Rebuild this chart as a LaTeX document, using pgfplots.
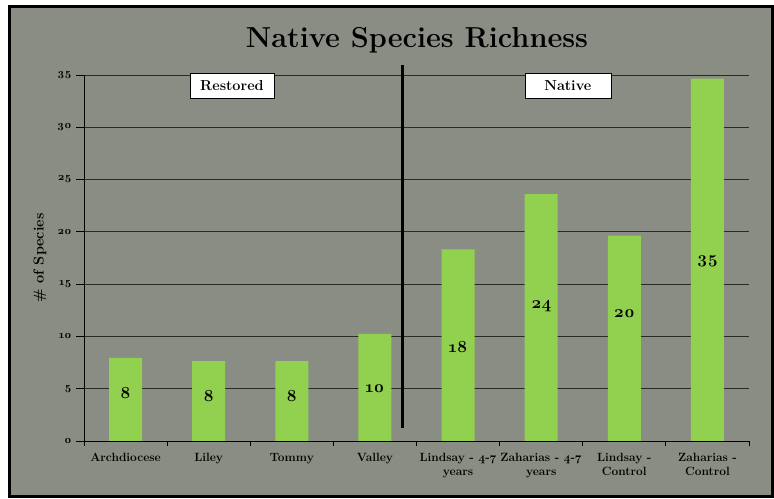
\documentclass[border=0pt]{standalone}
\usepackage{fontspec}
\setmainfont{Latin Modern Roman}[Numbers=OldStyle]
\usepackage{pgfplots}
\pgfplotsset{compat=1.18}
\definecolor{bg}{RGB}{138,141,131}
\definecolor{bargreen}{RGB}{146,208,80}
\definecolor{gridc}{RGB}{40,42,38}
\pgfplotstableread{
x y
0 7.94
1 7.65
2 7.65
3 10.25
4 18.33
5 23.6
6 19.65
7 34.65
}\bars
\pgfplotstableread{
x y lab
0 4.6 8
1 4.3 8
2 4.3 8
3 5.0 10
4 9.0 18
5 12.9 24
6 12.2 20
7 17.2 35
}\labs
\begin{document}
\begin{tikzpicture}
\fill[white] (0,0) rectangle (774bp,499bp);
\filldraw[fill=bg, draw=black, line width=3bp] (9.5bp,2bp) rectangle (772bp,492.5bp);
\node[font=\bfseries\fontsize{29}{32}\selectfont] at (417bp,459bp) {Native Species Richness};
\begin{axis}[
  at={(84bp,58bp)}, anchor=south west, scale only axis,
  width=665bp, height=366bp,
  xmin=-0.5, xmax=7.5, ymin=0, ymax=35,
  axis lines=left, axis line style={-, black, line width=1pt},
  ytick={0,5,10,15,20,25,30,35},
  yticklabels={0,5,10,15,20,25,30,35},
  ymajorgrids, grid style={gridc, line width=0.9pt},
  xtick={0,...,7},
  xticklabels={Archdiocese, Liley, Tommy, Valley, {Lindsay - 4-7\\years}, {Zaharias - 4-7\\years}, {Lindsay -\\Control}, {Zaharias -\\Control}},
  minor xtick={-0.5,0.5,...,7.5},
  major x tick style={draw=none},
  minor x tick style={black, line width=0.8pt},
  minor tick length=5bp,
  major tick length=8bp,
  tick align=outside,
  ytick style={black, line width=0.8pt},
  xticklabel style={align=center, font=\bfseries\fontsize{12}{14}\selectfont, yshift=-1bp},
  yticklabel style={font=\bfseries\fontsize{11}{12}\selectfont, xshift=-1bp},
  ylabel={\# of Species},
  ylabel style={font=\bfseries\fontsize{14.5}{16}\selectfont, yshift=4bp},
  clip=false,
]
\addplot[ybar, bar width=33bp, fill=bargreen, draw=none] table[x=x,y=y] {\bars};
\addplot[only marks, mark=none, nodes near coords, point meta=explicit symbolic,
  nodes near coords style={anchor=center, font=\bfseries\fontsize{17}{18}\selectfont}]
  table[x=x,y=y,meta=lab] {\labs};
\draw[black, line width=2.5bp] (axis cs:3.33,1.2) -- (axis cs:3.33,35.95);
\node[draw=black, fill=white, minimum width=84bp, minimum height=25bp, inner sep=2bp,
  font=\bfseries\fontsize{14.5}{16}\selectfont] at (axis cs:1.28,34.0) {Restored};
\node[draw=black, fill=white, minimum width=86bp, minimum height=25bp, inner sep=2bp,
  font=\bfseries\fontsize{14.5}{16}\selectfont] at (axis cs:5.32,34.0) {Native};
\end{axis}
\end{tikzpicture}
\end{document}
